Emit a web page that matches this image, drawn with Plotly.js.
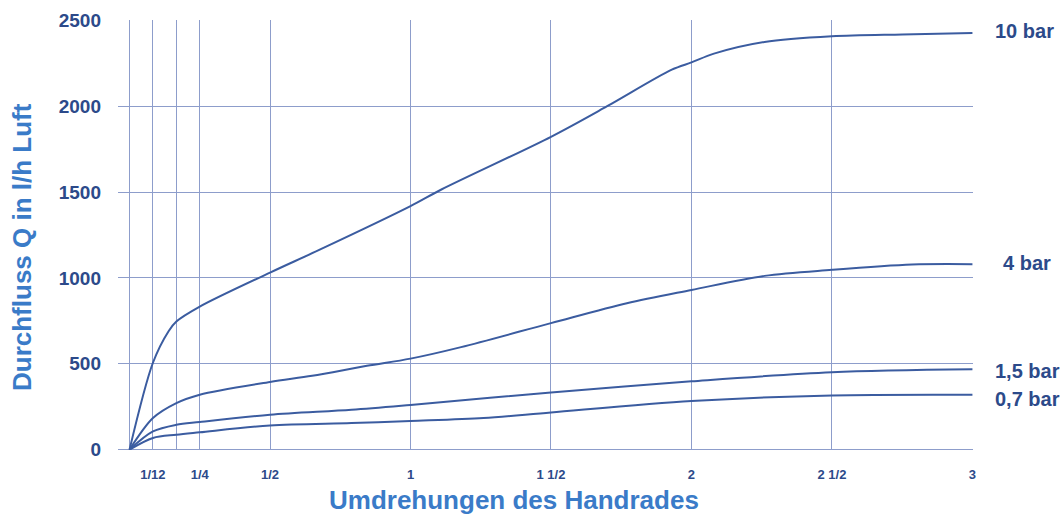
<!DOCTYPE html>
<html>
<head>
<meta charset="utf-8">
<script src="https://cdn.plot.ly/plotly-3.0.1.min.js"></script>
<style>html,body{margin:0;padding:0;background:#fff;}#chart{width:1063px;height:518px;}</style>
</head>
<body>
<div id="chart"></div>
<script>
// Data
const seriesNames = ["10 bar", "4 bar", "1,5 bar", "0,7 bar"];

const x10 = [0, 1/12, 0.139, 1/6, 0.25, 0.5, 0.675, 1, 1.11, 1.5, 1.70, 1.93, 2, 2.08, 2.26, 2.5, 2.75, 3];
const y10 = [0, 506, 690, 746, 833, 1031, 1163, 1418, 1515, 1822, 2000, 2213, 2255, 2306, 2374, 2407, 2418, 2426];

const x4 = [0, 1/12, 1/6, 0.25, 0.5, 0.65, 0.845, 1, 1.18, 1.5, 1.77, 2, 2.26, 2.5, 2.785, 3];
const y4 = [0, 184, 271, 320, 394, 430, 488, 530, 597, 737, 853, 930, 1012, 1047, 1078, 1080];

const x15 = [0, 1/12, 1/6, 0.25, 0.5, 0.79, 1, 1.5, 2, 2.5, 3];
const y15 = [0, 106, 145, 161, 203, 232, 260, 333, 398, 451, 468];

const x07 = [0, 1/12, 1/6, 0.25, 0.5, 0.79, 1, 1.26, 1.5, 2, 2.5, 3];
const y07 = [0, 68, 87, 101, 141, 155, 167, 184, 217, 283, 316, 320];

const xTickVals = [0, 1/12, 1/6, 0.25, 0.5, 1, 1.5, 2, 2.5, 3];
const xTickText = ["", "1/12", "", "1/4", "1/2", "1", "1 1/2", "2", "2 1/2", "3"];
const yTickVals = [0, 500, 1000, 1500, 2000, 2500];
const yTickText = ["0", "500", "1000", "1500", "2000", "2500"];

const labelY = [2436, 1087, 459, 297];

const lineColor = "#3b5ca0";
const gridColor = "#8d9dcb";
const navy = "#2c4a8a";
const titleBlue = "#3a7bc8";
const fam = "Liberation Sans, Arial, sans-serif";

const xs = [x10, x4, x15, x07];
const ys = [y10, y4, y15, y07];

const traces = xs.map((xv, i) => ({
  x: xv, y: ys[i], type: "scatter", mode: "lines", name: seriesNames[i],
  line: {color: lineColor, width: 2, shape: "spline", smoothing: 0.9},
  hoverinfo: "x+y"
}));

const annotations = seriesNames.map((n, i) => ({
  text: n, xref: "paper", yref: "y", x: i === 1 ? 1.0325 : 1.0235, y: labelY[i],
  xanchor: "left", yanchor: "middle", showarrow: false,
  font: {family: fam, size: 20, color: navy, weight: "bold"}
}));
annotations.push({
  text: "Umdrehungen des Handrades", xref: "paper", yref: "paper",
  x: (514 - 118) / 855, y: -(500 - 450) / 430, xanchor: "center", yanchor: "middle",
  showarrow: false, font: {family: fam, size: 26, color: titleBlue, weight: "bold"}
});
annotations.push({
  text: "Durchfluss Q in l/h Luft", xref: "paper", yref: "paper",
  x: (22 - 118) / 855, y: (450 - 247) / 430, xanchor: "center", yanchor: "middle",
  textangle: -90, showarrow: false,
  font: {family: fam, size: 26, color: titleBlue, weight: "bold"}
});

const layout = {
  width: 1063, height: 518,
  margin: {l: 118, r: 90, t: 20, b: 68},
  paper_bgcolor: "#ffffff", plot_bgcolor: "#ffffff",
  showlegend: false,
  xaxis: {
    range: [-0.041, 3.002], tickmode: "array", tickvals: xTickVals, ticktext: xTickText,
    showgrid: true, gridcolor: gridColor, gridwidth: 1,
    zeroline: true, zerolinecolor: gridColor, zerolinewidth: 1,
    showline: false, ticks: "", ticklabelstandoff: 15,
    tickfont: {family: fam, size: 13, color: navy, weight: "bold"}
  },
  yaxis: {
    range: [-2, 2502], tickmode: "array", tickvals: yTickVals, ticktext: yTickText,
    showgrid: true, gridcolor: gridColor, gridwidth: 1,
    zeroline: true, zerolinecolor: gridColor, zerolinewidth: 1,
    showline: false, ticks: "", ticklabelstandoff: 16,
    tickfont: {family: fam, size: 19, color: navy, weight: "bold"}
  },
  annotations: annotations
};

Plotly.newPlot("chart", traces, layout, {displayModeBar: false, staticPlot: true});
</script>
</body>
</html>
